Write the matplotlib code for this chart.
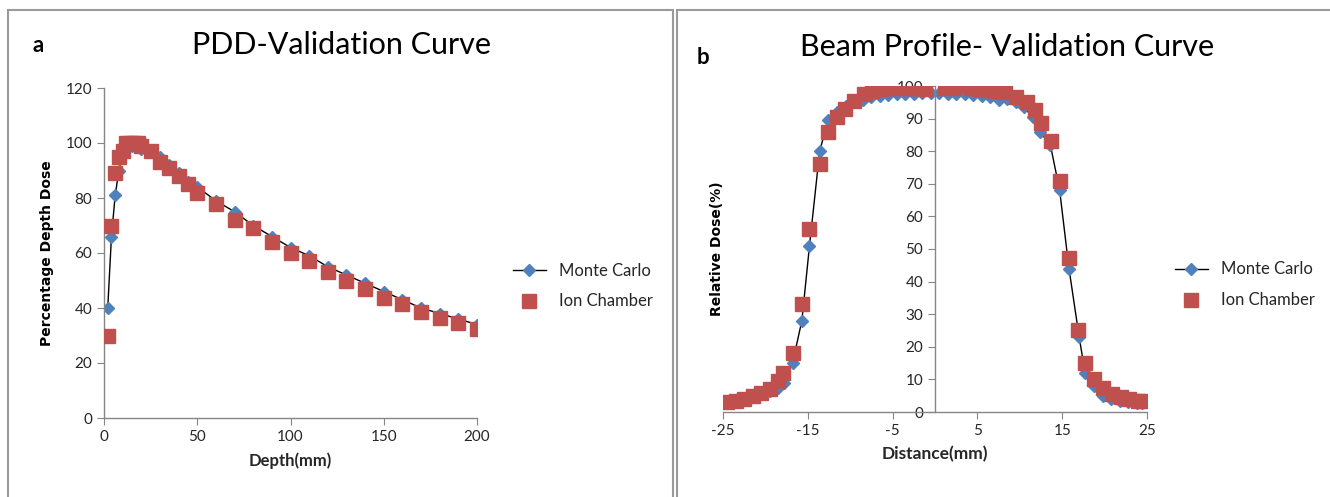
import matplotlib.pyplot as plt
from matplotlib.patches import Rectangle
from matplotlib.lines import Line2D

plt.rcParams['font.family'] = ['Lato', 'DejaVu Sans']
plt.rcParams['axes.unicode_minus'] = False

# PDD data (depth in mm, percentage depth dose)
pdd_mc_depth = [2, 4, 6, 8, 10, 12, 15, 20, 25, 30, 35, 40, 45, 50, 60, 70, 80, 90,
                100, 110, 120, 130, 140, 150, 160, 170, 180, 190, 200]
pdd_mc_dose = [40, 66, 81, 90, 96, 98, 99, 98, 97, 95, 92, 89, 86, 84, 79, 75, 70, 66,
               62, 59, 55, 52, 49, 46, 43, 40, 38, 36, 34]
pdd_ic_depth = [2, 4, 6, 8, 10, 12, 14, 16, 18, 20, 25, 30, 35, 40, 45, 50, 60, 70, 80,
                90, 100, 110, 120, 130, 140, 150, 160, 170, 180, 190, 200]
pdd_ic_dose = [30, 70, 89, 95, 97, 100, 100, 100, 100, 99, 97, 93, 91, 88, 85, 82, 78,
               72, 69, 64, 60, 57, 53, 50, 47, 43.5, 41.5, 38.5, 36.5, 34.5, 32.5]

# Beam profile data (distance in mm, relative dose %)
prof_mc_x = [-24.5, -23.5, -22.5, -21.5, -20.5, -19.5, -18.5, -17.8, -16.8, -15.7,
             -14.8, -13.6, -12.6, -11.5, -10.5, -9.5, -8.5, -7.5, -6.5, -5.5, -4.5,
             -3.5, -2.5, -1.5, -0.5, 0.5, 1.5, 2.5, 3.5, 4.5, 5.5, 6.5, 7.5, 8.5, 9.5,
             10.5, 11.5, 12.4, 13.6, 14.7, 15.8, 17.0, 17.7, 18.7, 19.8, 20.8, 21.8,
             22.8, 23.8, 24.4]
prof_mc_dose = [2.8, 3.2, 3.8, 4.5, 5.5, 6.5, 7.5, 9, 15, 28, 51, 80, 89.7, 92, 94, 95,
                95.8, 96.5, 97, 97.2, 97.5, 97.6, 97.5, 97.7, 97.8, 97.8, 97.6, 97.5,
                97.4, 97.3, 97, 96.5, 95.7, 96, 95, 93.5, 90.5, 85.8, 82, 68, 44, 23, 12,
                8, 5, 4, 3.5, 3, 2.8, 2.8]
prof_ic_x = [-24.5, -23.5, -22.5, -21.5, -20.5, -19.5, -18.5, -17.9, -16.8, -15.7,
             -14.9, -13.6, -12.6, -11.5, -10.6, -9.5, -8.4, -7.4, -6.3, -5.3, -4.3,
             -3.3, -2.3, -1.2, 1.2, 2.2, 3.2, 4.2, 5.2, 6.2, 7.2, 8.3, 9.5, 10.8, 11.8,
             12.5, 13.7, 14.7, 15.8, 16.9, 17.7, 18.8, 19.8, 20.9, 21.9, 22.9, 23.9,
             24.5]
prof_ic_dose = [3.0, 3.5, 4.0, 4.8, 5.8, 7, 9.5, 12, 18, 33, 56, 76, 86, 90.5, 93, 95.5,
                97.5, 98.5, 99, 99.5, 99.5, 99.5, 99.5, 99, 99.5, 99.5, 100.2, 99.5, 99,
                98.8, 98.5, 98.3, 96.5, 95, 92.5, 88.6, 83, 70.8, 47.3, 25.3, 14.9, 10,
                7.5, 5.5, 4.5, 4, 3.5, 3.3]

MC_COLOR = '#4F81BD'
IC_COLOR = '#C0504D'
AXIS_COLOR = '#868686'
TEXT_COLOR = '#262626'


def style_axes(ax):
    for side in ['top', 'right']:
        ax.spines[side].set_visible(False)
    for side in ['left', 'bottom']:
        ax.spines[side].set_color(AXIS_COLOR)
        ax.spines[side].set_linewidth(1.0)
    ax.tick_params(colors=AXIS_COLOR, labelcolor=TEXT_COLOR, labelsize=11,
                   length=5, direction='out')


def draw_series(ax, mc_x, mc_y, ic_x, ic_y):
    ax.plot(mc_x, mc_y, color='black', lw=1.0, marker='D', ms=6.5,
            mfc=MC_COLOR, mec=MC_COLOR, zorder=2)
    ax.plot(ic_x, ic_y, ls='none', marker='s', ms=10, mfc=IC_COLOR,
            mec=IC_COLOR, zorder=3)


def add_legend(ax, x, y):
    handles = [Line2D([], [], color='black', lw=1.0, marker='D', ms=6.5,
                      mfc=MC_COLOR, mec=MC_COLOR),
               Line2D([], [], ls='none', marker='s', ms=10, mfc=IC_COLOR,
                      mec=IC_COLOR)]
    ax.legend(handles, ['Monte Carlo', 'Ion Chamber'], loc='center left',
              bbox_to_anchor=(x, y), frameon=False, fontsize=12,
              labelspacing=0.9, handlelength=2.0, labelcolor=TEXT_COLOR)


fig = plt.figure(figsize=(13.3, 4.97), dpi=100)

# panel frames
fig.patches.append(Rectangle((8 / 1330, -0.1), 665 / 1330, 1.1 - 10 / 497,
                             transform=fig.transFigure, fill=False,
                             ec='#9a9a9a', lw=1.5))
fig.patches.append(Rectangle((677 / 1330, -0.1), 660 / 1330, 1.1 - 10 / 497,
                             transform=fig.transFigure, fill=False,
                             ec='#9a9a9a', lw=1.5))

# left panel: PDD
ax1 = fig.add_axes([104 / 1330, 79 / 497, 373 / 1330, 330 / 497])
draw_series(ax1, pdd_mc_depth, pdd_mc_dose, pdd_ic_depth, pdd_ic_dose)
style_axes(ax1)
ax1.set_xlim(0, 200)
ax1.set_ylim(0, 120)
ax1.set_xticks(range(0, 201, 50))
ax1.set_yticks(range(0, 121, 20))
ax1.set_xlabel('Depth(mm)', fontsize=12, fontweight='bold', color=TEXT_COLOR,
               labelpad=6)
ax1.set_ylabel('Percentage Depth Dose', fontsize=10, fontweight='bold',
               color='black', family='DejaVu Sans')
ax1.yaxis.set_label_coords(-0.134, 0.5)
add_legend(ax1, 1.055, 0.40)
fig.text(341 / 1330, 1 - 45 / 497, 'PDD-Validation Curve', fontsize=22,
         ha='center', va='center', color='black')
fig.text(38 / 1330, 1 - 45 / 497, 'a', fontsize=16, fontweight='bold',
         ha='center', va='center')

# right panel: beam profile
ax2 = fig.add_axes([723 / 1330, 85 / 497, 424 / 1330, 326 / 497])
draw_series(ax2, prof_mc_x, prof_mc_dose, prof_ic_x, prof_ic_dose)
style_axes(ax2)
ax2.spines['left'].set_position(('data', 0))
ax2.set_xlim(-25, 25)
ax2.set_ylim(0, 100)
ax2.set_xticks(range(-25, 26, 10))
ax2.set_yticks(range(0, 101, 10))
ax2.set_xlabel('Distance(mm)', fontsize=12.5, fontweight='bold',
               color=TEXT_COLOR, labelpad=6)
ax2.set_ylabel('Relative Dose(%)', fontsize=10, fontweight='bold',
               color='black', family='DejaVu Sans')
ax2.yaxis.set_label_coords(0.002, 0.5)
add_legend(ax2, 1.03, 0.39)
fig.text(1007 / 1330, 1 - 47 / 497, 'Beam Profile- Validation Curve', fontsize=22,
         ha='center', va='center', color='black')
fig.text(703 / 1330, 1 - 58 / 497, 'b', fontsize=16, fontweight='bold',
         ha='center', va='center')

fig.savefig('out.png', dpi=100)
